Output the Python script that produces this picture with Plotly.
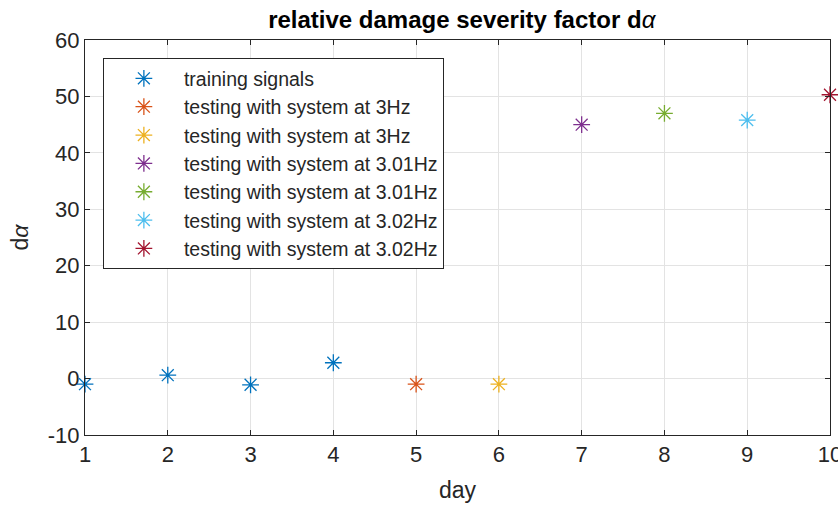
import plotly.graph_objects as go

days = [1, 2, 3, 4, 5, 6, 7, 8, 9, 10]
values = [-1.0, 0.6, -1.1, 2.8, -1.0, -1.0, 45.0, 47.0, 45.8, 50.3]
groups = [
    ("training signals", [0, 1, 2, 3], "#0072BD"),
    ("testing with system at 3Hz", [4], "#D95319"),
    ("testing with system at 3Hz", [5], "#EDB120"),
    ("testing with system at 3.01Hz", [6], "#7E2F8E"),
    ("testing with system at 3.01Hz", [7], "#77AC30"),
    ("testing with system at 3.02Hz", [8], "#4DBEEE"),
    ("testing with system at 3.02Hz", [9], "#A2142F"),
]
x_ticks = list(range(1, 11))
y_ticks = list(range(-10, 61, 10))
y_tick_labels = [str(v) for v in y_ticks]

fig = go.Figure()
for i, (name, idx, color) in enumerate(groups):
    fig.add_trace(go.Scatter(
        x=[days[j] for j in idx], y=[values[j] for j in idx],
        mode="markers", name=name,
        marker=dict(symbol="asterisk-open", size=14, color=color,
                    line=dict(color=color, width=1.3)),
        cliponaxis=False,
    ))

font = "Liberation Sans, Arial, sans-serif"
axis_common = dict(
    showline=True, linecolor="#262626", linewidth=1, mirror="ticks",
    ticks="inside", ticklen=5, tickcolor="#262626",
    showgrid=True, gridcolor="#e3e3e3", gridwidth=1, zeroline=False,
    tickfont=dict(family=font, size=22, color="#262626"),
    ticklabeloverflow="allow", automargin=False,
)
fig.update_layout(
    width=838, height=508,
    margin=dict(l=85, r=8, t=40, b=73),
    paper_bgcolor="white", plot_bgcolor="white",
    title=dict(text="<b>relative damage severity factor d</b><i>α</i>",
               x=0.551, xanchor="center", y=0.962, yanchor="middle",
               font=dict(family=font, size=24, color="black")),
    xaxis=dict(range=[1, 10], tickvals=x_ticks,
               title=dict(text="day", font=dict(family=font, size=23, color="#262626"), standoff=15),
               **axis_common),
    yaxis=dict(range=[-10, 60], tickvals=y_ticks, ticktext=y_tick_labels,
               title=dict(text="d<i>α</i>", font=dict(family=font, size=23, color="#262626"), standoff=12),
               **axis_common),
    legend=dict(x=0.024, y=0.954, xanchor="left", yanchor="top",
                bgcolor="white", bordercolor="#262626", borderwidth=1,
                font=dict(family=font, size=19.5, color="#262626"),
                itemwidth=70, tracegroupgap=0),
    showlegend=True,
)
fig.write_html("out.html")
